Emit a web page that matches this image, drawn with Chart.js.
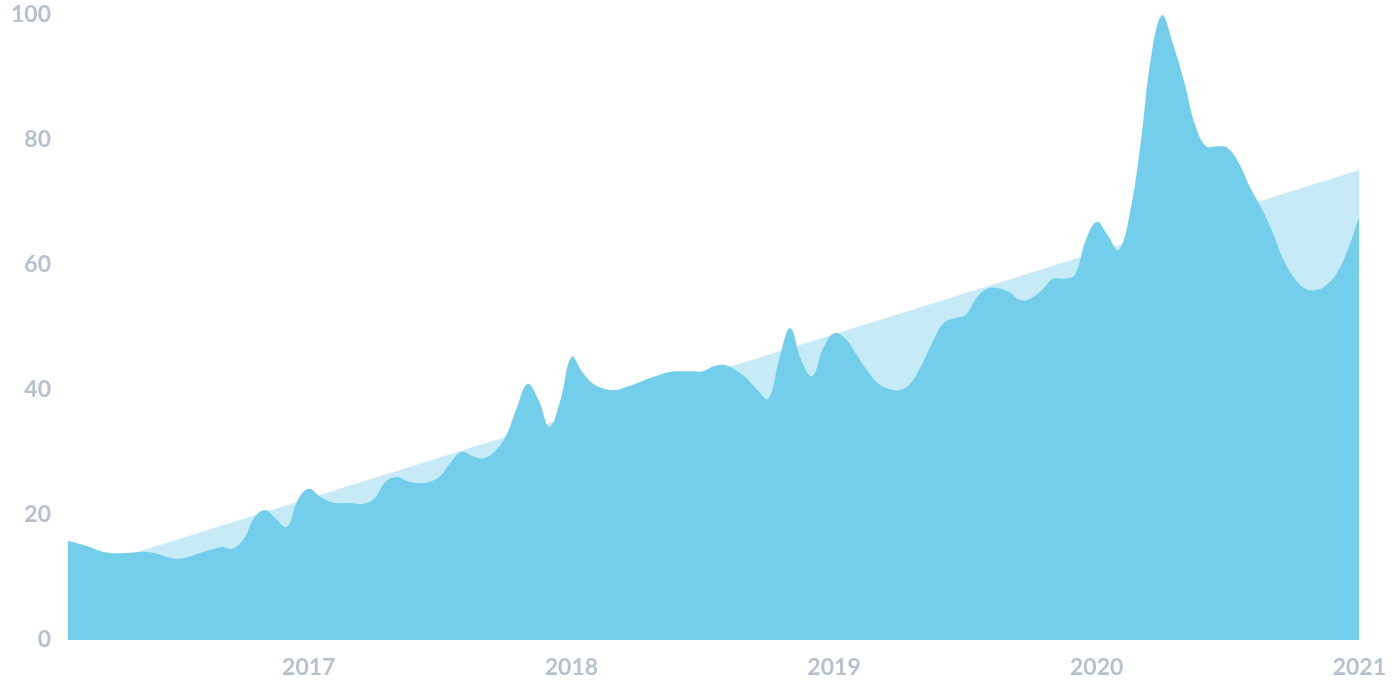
<!DOCTYPE html>
<html>
<head>
<title>Interest over time</title>
<script src="https://cdn.jsdelivr.net/npm/chart.js"></script>
<style>
  body { margin: 0; background: #fff; }
  #wrap { width: 1392px; height: 696px; }
</style>
</head>
<body>
<div id="wrap"><canvas id="chart" width="1392" height="696"></canvas></div>
<script>
// half-monthly samples, Feb 2016 .. Jan 2021
const startYear = 2016;
const startMonth = 2;
const sampleCount = 119;

const interest = [
  15.9, 15.4, 14.9, 14.2, 13.9, 13.9, 14.0, 14.1, 13.9, 13.3,
  13.0, 13.3, 13.9, 14.4, 14.9, 14.6, 16.0, 19.5, 20.8, 19.4,
  18.1, 22.4, 24.2, 23.0, 22.1, 21.9, 21.9, 21.8, 22.7, 25.3,
  26.1, 25.4, 25.1, 25.3, 26.2, 28.5, 30.1, 29.4, 29.1, 30.2,
  32.6, 37.1, 41.0, 38.4, 34.1, 38.4, 45.3, 42.9, 41.0, 40.2,
  40.0, 40.5, 41.1, 41.8, 42.4, 42.9, 43.0, 43.0, 43.0, 43.8,
  44.0, 43.2, 41.9, 40.0, 38.6, 45.0, 49.9, 44.8, 42.2, 46.7,
  49.1, 48.3, 45.8, 43.2, 41.1, 40.2, 40.0, 41.1, 44.0, 47.7,
  50.7, 51.5, 52.0, 54.7, 56.2, 56.3, 55.7, 54.4, 54.7, 56.0,
  57.8, 57.8, 58.4, 64.0, 66.9, 64.8, 62.4, 68.0, 79.2, 93.6,
  100, 95.2, 89.3, 82.4, 79.0, 79.0, 78.7, 76.3, 72.5, 69.3,
  65.6, 61.1, 58.1, 56.3, 56.0, 56.8, 58.9, 62.7, 67.8
];

// trend line: only the two end values, the rest is spanned
const trendStart = 10.6;
const trendEnd = 75.2;

const yTicks = [0, 20, 40, 60, 80, 100];

const labels = [];
for (let i = 0; i < sampleCount; i++) {
  const m = startMonth - 1 + Math.floor(i / 2);
  const y = startYear + Math.floor(m / 12);
  const mm = String((m % 12) + 1).padStart(2, '0');
  labels.push(y + '-' + mm + '-' + (i % 2 === 0 ? '01' : '15'));
}

const trend = labels.map((_, i) => i === 0 ? trendStart : (i === sampleCount - 1 ? trendEnd : null));

const tickFont = { family: 'Lato', size: 23, weight: 'bold' };
const tickColor = '#b7c1cd';

new Chart(document.getElementById('chart'), {
  type: 'line',
  data: {
    labels: labels,
    datasets: [
      {
        label: 'Interest',
        data: interest,
        fill: 'origin',
        backgroundColor: '#72ceeb',
        borderWidth: 0,
        pointRadius: 0,
        tension: 0.4,
        order: 0
      },
      {
        label: 'Trend',
        data: trend,
        spanGaps: true,
        fill: 'origin',
        backgroundColor: '#c6ebf6',
        borderWidth: 0,
        pointRadius: 0,
        tension: 0,
        order: 1
      }
    ]
  },
  options: {
    responsive: false,
    animation: false,
    layout: { padding: { top: 15, right: 20, left: 0, bottom: 0 } },
    plugins: {
      legend: { display: false },
      tooltip: { enabled: false }
    },
    scales: {
      x: {
        grid: { display: false },
        border: { display: false },
        afterFit: s => { s.height = 56; },
        ticks: {
          autoSkip: false,
          maxRotation: 0,
          padding: 6,
          color: tickColor,
          font: tickFont,
          callback: function (v) {
            const l = labels[v];
            return l.endsWith('-01-01') ? l.slice(0, 4) : null;
          }
        }
      },
      y: {
        min: 0,
        max: 100,
        grid: { display: false },
        border: { display: false },
        afterFit: s => { s.width = 68; s.paddingTop = 0; s.paddingBottom = 0; },
        afterBuildTicks: s => { s.ticks = yTicks.map(v => ({ value: v })); },
        ticks: {
          padding: 9,
          color: tickColor,
          font: tickFont
        }
      }
    }
  }
});
</script>
</body>
</html>
